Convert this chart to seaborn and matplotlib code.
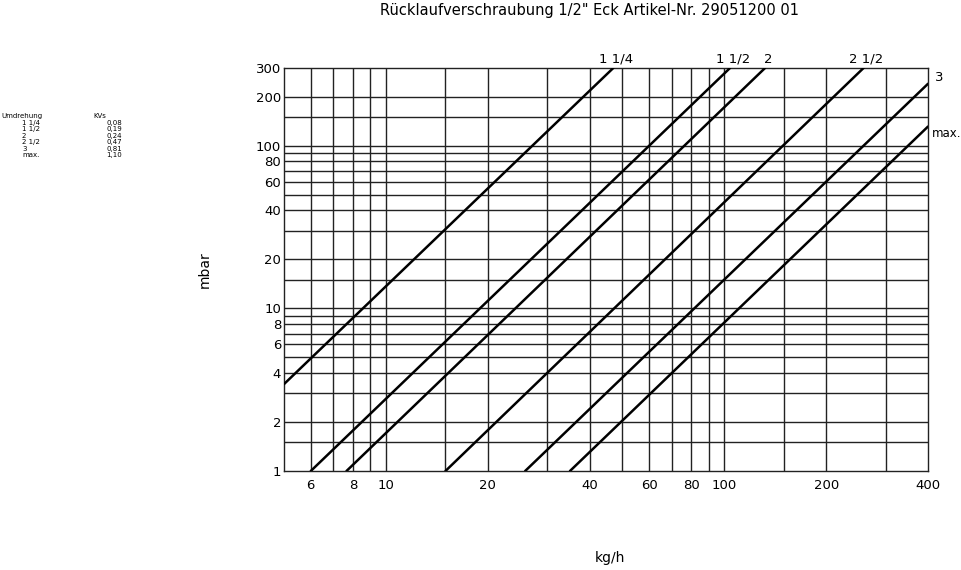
import matplotlib
matplotlib.use("Agg")
import matplotlib.pyplot as plt
import matplotlib.ticker as mticker
import seaborn as sns
import pandas as pd

# valve settings (Umdrehung) and their Kv values, as printed in the table
sizes = ["1 1/4", "1 1/2", "2", "2 1/2", "3", "max."]
kv_text = ["0,08", "0,19", "0,24", "0,47", "0,81", "1,10"]

# end points of each characteristic line (kg/h, mbar)
start_kgh = [5, 6, 7.65, 15.0, 25.8, 35.0]
start_mbar = [3.42, 1, 1, 1, 1, 1]
end_kgh = [47, 104, 132, 258, 400, 400]
end_mbar = [300, 300, 300, 300, 240, 131]

# axis ticks
x_labels = [6, 8, 10, 20, 40, 60, 80, 100, 200, 400]
y_labels = [1, 2, 4, 6, 8, 10, 20, 40, 60, 80, 100, 200, 300]
x_grid = [6, 7, 8, 9, 10, 15, 20, 30, 40, 50, 60, 70, 80, 90, 100, 150, 200, 300]
y_grid = [1.5, 2, 3, 4, 5, 6, 7, 8, 9, 10, 15, 20, 30, 40, 50, 60, 70, 80, 90,
          100, 150, 200]

rows = []
for s, x0, y0, x1, y1 in zip(sizes, start_kgh, start_mbar, end_kgh, end_mbar):
    rows.append({"size": s, "kgh": x0, "mbar": y0})
    rows.append({"size": s, "kgh": x1, "mbar": y1})
df = pd.DataFrame(rows)

sns.set_style("white")
plt.rcParams["font.family"] = ["DejaVu Sans"]
plt.rcParams["text.color"] = "black"

fig = plt.figure(figsize=(9.61, 5.70), dpi=100)
ax = fig.add_axes([284 / 961, 1 - 471 / 570, (928 - 284) / 961, (471 - 68) / 570])

ax.set_xscale("log")
ax.set_yscale("log")
ax.set_xlim(5, 400)
ax.set_ylim(1, 300)

for g in x_grid:
    ax.axvline(g, color="#222222", lw=1.0, zorder=1)
for g in y_grid:
    ax.axhline(g, color="#222222", lw=1.0, zorder=1)

sns.lineplot(data=df, x="kgh", y="mbar", units="size", estimator=None,
             color="black", lw=1.8, ax=ax, legend=False, zorder=3)

ax.xaxis.set_major_locator(mticker.FixedLocator(x_labels))
ax.xaxis.set_major_formatter(mticker.FixedFormatter([str(v) for v in x_labels]))
ax.xaxis.set_minor_locator(mticker.NullLocator())
ax.yaxis.set_major_locator(mticker.FixedLocator(y_labels))
ax.yaxis.set_major_formatter(mticker.FixedFormatter([str(v) for v in y_labels]))
ax.yaxis.set_minor_locator(mticker.NullLocator())
ax.tick_params(axis="both", length=0, labelsize=9.5, colors="black")
ax.tick_params(axis="x", pad=6)
ax.tick_params(axis="y", pad=2)
ax.set_xlabel("")
ax.set_ylabel("")
for sp in ax.spines.values():
    sp.set_color("#222222")
    sp.set_linewidth(1.0)

# line labels: four above the top, two at the right
for s, x1, y1 in zip(sizes, end_kgh, end_mbar):
    if y1 >= 300:
        ax.text(x1 * 1.02, 310, s, ha="center", va="bottom", fontsize=9.5)
    elif s == "max.":
        ax.text(410, y1, s, ha="left", va="top", fontsize=8.5)
    else:
        ax.text(420, y1, s, ha="left", va="bottom", fontsize=9.5)

fig.text(589 / 961, 1 - 11 / 570, 'Rücklaufverschraubung 1/2" Eck Artikel-Nr. 29051200 01',
         ha="center", va="center", fontsize=10.5)
fig.text(205 / 961, 1 - 270 / 570, "mbar", rotation=90, ha="center", va="center", fontsize=10)
fig.text(610 / 961, 1 - 558 / 570, "kg/h", ha="center", va="center", fontsize=10)

# Kv table at the left
fs = 5.0
fig.text(1 / 961, 1 - 116 / 570, "Umdrehung", ha="left", va="center", fontsize=fs)
fig.text(93 / 961, 1 - 116 / 570, "KVs", ha="left", va="center", fontsize=fs)
for i, (s, k) in enumerate(zip(sizes, kv_text)):
    yy = 1 - (123 + 6.4 * i) / 570
    fig.text(22 / 961, yy, s, ha="left", va="center", fontsize=fs)
    fig.text(122 / 961, yy, k, ha="right", va="center", fontsize=fs)

fig.savefig("out.png", dpi=100)
